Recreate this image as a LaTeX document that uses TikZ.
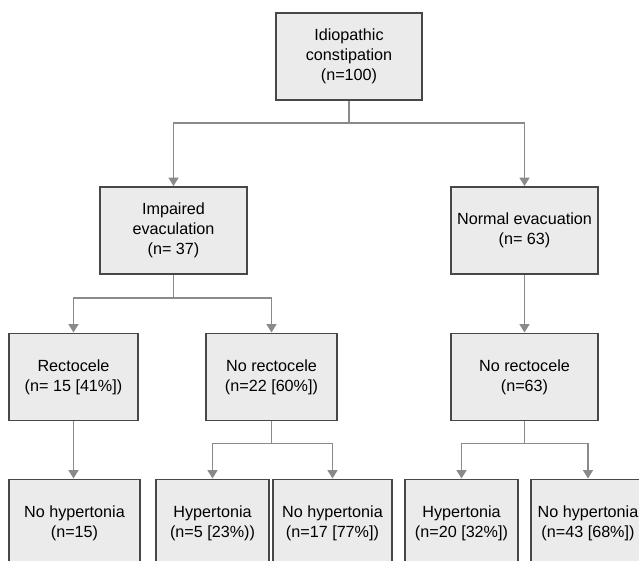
\documentclass[tikz,border=0pt]{standalone}
\usepackage{fontspec}
\setmainfont{Liberation Sans}
\usetikzlibrary{arrows.meta}
\definecolor{boxfill}{HTML}{EBEBEB}
\definecolor{boxline}{HTML}{474747}
\definecolor{linkgray}{HTML}{8A8A8A}

\begin{document}
\begin{tikzpicture}[x=0.03cm,y=-0.03cm,>={Triangle[width=2.9mm,length=2.5mm]},
  box/.style={draw=boxline,line width=1.6pt,fill=boxfill,align=center,inner sep=0pt,
    minimum height=87*0.03cm,font=\fontsize{13.8}{17}\selectfont},
  link/.style={draw=linkgray,line width=1.6pt}]
  \useasboundingbox (0,0) rectangle (639,561);
  \clip (0,0) rectangle (639,561);
  % first split
  \node[box,minimum width=146*0.03cm] (root) at (349,56.5) {Idiopathic\\constipation\\(n=100)};
  \node[box,minimum width=147*0.03cm] (imp) at (173.5,230.5) {Impaired\\evaculation\\(n= 37)};
  \node[box,minimum width=147*0.03cm] (norm) at (524.5,230.5) {Normal evacuation\\(n= 63)};
  % rectocele
  \node[box,minimum width=129*0.03cm] (rect) at (73.5,377) {Rectocele\\(n= 15 [41\%])};
  \node[box,minimum width=131*0.03cm] (norect) at (271.5,377) {No rectocele\\(n=22 [60\%])};
  \node[box,minimum width=147*0.03cm] (normnorect) at (524.5,377) {No rectocele\\(n=63)};
  % hypertonia
  \node[box,minimum width=131*0.03cm] (rectno) at (74.5,523) {No hypertonia\\(n=15)};
  \node[box,minimum width=113*0.03cm] (norecthyp) at (212.5,523) {Hypertonia\\(n=5 [23\%))};
  \node[box,minimum width=119*0.03cm] (norectno) at (332.5,523) {No hypertonia\\(n=17 [77\%])};
  \node[box,minimum width=113*0.03cm] (normhyp) at (461.5,523) {Hypertonia\\(n=20 [32\%])};
  \node[box,minimum width=114*0.03cm] (normno) at (588,523) {No hypertonia\\(n=43 [68\%])};
  \draw[->,link] (root.south) -- ++(0,22) -| (imp.north);
  \draw[->,link] (root.south) -- ++(0,22) -| (norm.north);
  \draw[->,link] (imp.south) -- ++(0,23) -| (rect.north);
  \draw[->,link] (imp.south) -- ++(0,23) -| (norect.north);
  \draw[->,link] (norm.south) -- (normnorect.north);
  \draw[->,link] (rect.south) -- (rect.south |- rectno.north);
  \draw[->,link] (norect.south) -- ++(0,22) -| (norecthyp.north);
  \draw[->,link] (norect.south) -- ++(0,22) -| (norectno.north);
  \draw[->,link] (normnorect.south) -- ++(0,22) -| (normhyp.north);
  \draw[->,link] (normnorect.south) -- ++(0,22) -| (normno.north);
\end{tikzpicture}
\end{document}
